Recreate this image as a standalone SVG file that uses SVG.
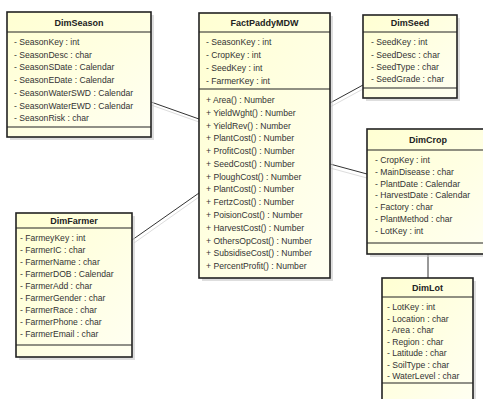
<svg xmlns="http://www.w3.org/2000/svg" width="483" height="399" viewBox="0 0 483 399">
<defs>
<linearGradient id="fill" x1="0" y1="0" x2="1" y2="1">
<stop offset="0" stop-color="#FFFFD2"/>
<stop offset="1" stop-color="#FFFFF2"/>
</linearGradient>
<style>
.sh{fill:#c8c8c8;opacity:0.6}
.box{fill:url(#fill);stroke:#222;stroke-width:1.6}
.sep{stroke:#222;stroke-width:1.2}
.t{font-family:"Liberation Sans",Arial,sans-serif;font-size:9px;fill:#222;font-weight:bold;text-anchor:middle}
.a{font-family:"Liberation Sans",Arial,sans-serif;font-size:8.6px;fill:#333}
.ln{stroke:#333;stroke-width:1;fill:none}
.lsh{stroke:#ddd;stroke-width:1;fill:none}
</style>
</defs>
<rect width="483" height="399" fill="#fff"/>

<g id="connectors">
<line class="lsh" x1="151" y1="105" x2="199" y2="122"/>
<line class="lsh" x1="134" y1="243" x2="199" y2="197"/>
<line class="lsh" x1="363" y1="89" x2="330" y2="107"/>
<line class="lsh" x1="330" y1="168" x2="367" y2="178"/>
<line class="ln" x1="151" y1="102" x2="199" y2="119"/>
<line class="ln" x1="132" y1="240" x2="199" y2="193"/>
<line class="ln" x1="363" y1="85" x2="330" y2="103"/>
<line class="ln" x1="330" y1="164" x2="367" y2="174"/>
<line class="ln" x1="428" y1="254" x2="428" y2="278"/>
</g>

<g id="DimSeason">
<rect class="sh" x="10" y="15" width="144" height="125"/>
<rect class="box" x="7" y="12" width="144" height="125"/>
<line class="sep" x1="7" y1="32" x2="151" y2="32"/>
<line class="sep" x1="7" y1="127" x2="151" y2="127"/>
<text class="t" x="79" y="26">DimSeason</text>
<text class="a" x="14" y="45">- SeasonKey : int</text>
<text class="a" x="14" y="57.7">- SeasonDesc : char</text>
<text class="a" x="14" y="70.4">- SeasonSDate : Calendar</text>
<text class="a" x="14" y="83.1">- SeasonEDate : Calendar</text>
<text class="a" x="14" y="95.8">- SeasonWaterSWD : Calendar</text>
<text class="a" x="14" y="108.5">- SeasonWaterEWD : Calendar</text>
<text class="a" x="14" y="121.2">- SeasonRisk : char</text>
</g>

<g id="FactPaddyMDW">
<rect class="sh" x="202" y="16" width="131" height="265"/>
<rect class="box" x="199" y="13" width="131" height="265"/>
<line class="sep" x1="199" y1="32" x2="330" y2="32"/>
<line class="sep" x1="199" y1="89" x2="330" y2="89"/>
<text class="t" x="264.5" y="26">FactPaddyMDW</text>
<text class="a" x="206" y="45">- SeasonKey : int</text>
<text class="a" x="206" y="58">- CropKey : int</text>
<text class="a" x="206" y="71">- SeedKey : int</text>
<text class="a" x="206" y="84">- FarmerKey : int</text>
<text class="a" x="206" y="103">+ Area() : Number</text>
<text class="a" x="206" y="115.8">+ YieldWght() : Number</text>
<text class="a" x="206" y="128.5">+ YieldRev() : Number</text>
<text class="a" x="206" y="141.3">+ PlantCost() : Number</text>
<text class="a" x="206" y="154.1">+ ProfitCost() : Number</text>
<text class="a" x="206" y="166.8">+ SeedCost() : Number</text>
<text class="a" x="206" y="179.6">+ PloughCost() : Number</text>
<text class="a" x="206" y="192.4">+ PlantCost() : Number</text>
<text class="a" x="206" y="205.2">+ FertzCost() : Number</text>
<text class="a" x="206" y="217.9">+ PoisionCost() : Number</text>
<text class="a" x="206" y="230.7">+ HarvestCost() : Number</text>
<text class="a" x="206" y="243.5">+ OthersOpCost() : Number</text>
<text class="a" x="206" y="256.2">+ SubsidiseCost() : Number</text>
<text class="a" x="206" y="269">+ PercentProfit() : Number</text>
</g>

<g id="DimSeed">
<rect class="sh" x="366" y="18" width="94" height="83"/>
<rect class="box" x="363" y="15" width="94" height="83"/>
<line class="sep" x1="363" y1="32" x2="457" y2="32"/>
<line class="sep" x1="363" y1="88" x2="457" y2="88"/>
<text class="t" x="410" y="26">DimSeed</text>
<text class="a" x="371" y="45">- SeedKey : int</text>
<text class="a" x="371" y="58">- SeedDesc : char</text>
<text class="a" x="371" y="70">- SeedType : char</text>
<text class="a" x="371" y="82">- SeedGrade : char</text>
</g>

<g id="DimCrop">
<rect class="sh" x="370" y="132" width="122" height="125"/>
<rect class="box" x="367" y="129" width="122" height="125"/>
<line class="sep" x1="367" y1="150" x2="489" y2="150"/>
<line class="sep" x1="367" y1="243" x2="489" y2="243"/>
<text class="t" x="428" y="143">DimCrop</text>
<text class="a" x="375" y="163">- CropKey : int</text>
<text class="a" x="375" y="174.8">- MainDisease : char</text>
<text class="a" x="375" y="186.6">- PlantDate : Calendar</text>
<text class="a" x="375" y="198.4">- HarvestDate : Calendar</text>
<text class="a" x="375" y="210.2">- Factory : char</text>
<text class="a" x="375" y="222">- PlantMethod : char</text>
<text class="a" x="375" y="233.8">- LotKey : int</text>
</g>

<g id="DimLot">
<rect class="sh" x="385" y="281" width="91" height="125"/>
<rect class="box" x="382" y="278" width="91" height="125"/>
<line class="sep" x1="382" y1="297" x2="473" y2="297"/>
<line class="sep" x1="382" y1="383" x2="473" y2="383"/>
<text class="t" x="427.5" y="291">DimLot</text>
<text class="a" x="387" y="310">- LotKey : int</text>
<text class="a" x="387" y="321.5">- Location : char</text>
<text class="a" x="387" y="333">- Area : char</text>
<text class="a" x="387" y="344.5">- Region : char</text>
<text class="a" x="387" y="356">- Latitude : char</text>
<text class="a" x="387" y="367.5">- SoilType : char</text>
<text class="a" x="387" y="379">- WaterLevel : char</text>
</g>

<g id="DimFarmer">
<rect class="sh" x="19" y="216" width="116" height="144"/>
<rect class="box" x="16" y="213" width="116" height="144"/>
<line class="sep" x1="16" y1="228" x2="132" y2="228"/>
<line class="sep" x1="16" y1="345" x2="132" y2="345"/>
<text class="t" x="74" y="223.5">DimFarmer</text>
<text class="a" x="20" y="241">- FarmeyKey : int</text>
<text class="a" x="20" y="253">- FarmerIC : char</text>
<text class="a" x="20" y="265">- FarmerName : char</text>
<text class="a" x="20" y="277">- FarmerDOB : Calendar</text>
<text class="a" x="20" y="289">- FarmerAdd : char</text>
<text class="a" x="20" y="301">- FarmerGender : char</text>
<text class="a" x="20" y="313">- FarmerRace : char</text>
<text class="a" x="20" y="325">- FarmerPhone : char</text>
<text class="a" x="20" y="337">- FarmerEmail : char</text>
</g>
</svg>
